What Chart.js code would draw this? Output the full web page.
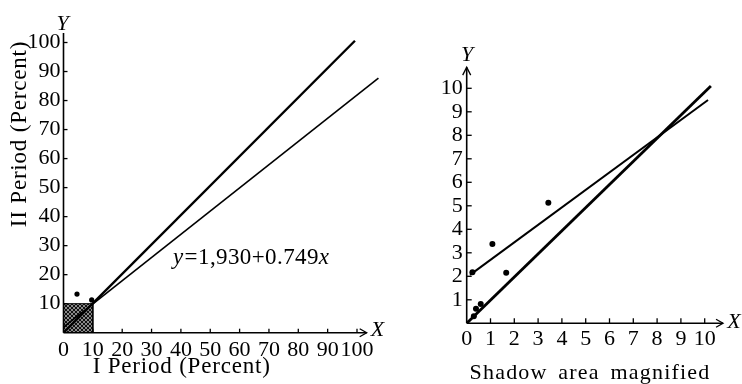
<!DOCTYPE html>
<html><head><meta charset="utf-8">
<script src="https://cdn.jsdelivr.net/npm/chart.js@4/dist/chart.umd.min.js"></script>
<style>
html,body{margin:0;padding:0;background:#fff;width:742px;height:384px;overflow:hidden}
canvas{position:absolute;top:0}
#left{left:0}
#right{left:420px}
</style></head><body>
<canvas id="left" width="420" height="384"></canvas>
<canvas id="right" width="322" height="384"></canvas>
<script>
// ---------- data ----------
const leftXTicks = [0,10,20,30,40,50,60,70,80,90,100];
const leftYTicks = [10,20,30,40,50,60,70,80,90,100];
const leftLineSteep = [{x:0,y:0},{x:99.3,y:100.6}];
const leftLineFit = [{x:0,y:1.9},{x:107.3,y:87.7}];
const leftPoints = [{x:4.6,y:13.3},{x:9.6,y:11.3}];
const shadowBox = [{x:0,y:0},{x:0,y:10},{x:10,y:10},{x:10,y:0}];

const rightXTicks = [0,1,2,3,4,5,6,7,8,9,10];
const rightYTicks = [1,2,3,4,5,6,7,8,9,10];
const rightLineSteep = [{x:0,y:0},{x:10.26,y:10.1}];
const rightLineFit = [{x:0.14,y:2.06},{x:10.14,y:9.5}];
const rightPoints = [{x:0.24,y:2.17},{x:1.08,y:3.37},{x:1.66,y:2.15},{x:3.43,y:5.13},{x:0.39,y:0.62},{x:0.59,y:0.82},{x:0.3,y:0.3}];

const equationParts = [["y",true],["=1,930+0.749",false],["x",true]];

// ---------- setup ----------
const FONT = "'Liberation Serif', 'DejaVu Serif', serif";
Chart.defaults.font.family = FONT;
Chart.defaults.color = '#000';
Chart.defaults.animation = false;

function hatch(){
  const c = document.createElement('canvas'); c.width = 4; c.height = 4;
  const g = c.getContext('2d');
  g.fillStyle = '#8a8a8a'; g.fillRect(0,0,4,4);
  g.strokeStyle = '#111'; g.lineWidth = 1;
  g.beginPath(); g.moveTo(0,4); g.lineTo(4,0); g.stroke();
  g.beginPath(); g.moveTo(0,0); g.lineTo(4,4); g.stroke();
  return g.createPattern(c,'repeat');
}

function axisScale(ticksArr, max, fit, isX, pad){
  return {
    type:'linear', min:0, max:max,
    afterBuildTicks: s => { s.ticks = ticksArr.map(v => ({value:v})); },
    afterFit: s => { if (isX) s.height = fit; else s.width = fit; },
    grid:{display:false, drawTicks:false},
    border:{display:false},
    ticks:{font:{size:22}, color:'#000', padding:pad, autoSkip:false, maxRotation:0, minRotation:0,
      callback: v => String(v)}
  };
}

const decor = {
  id:'decor',
  afterDatasetsDraw(chart, args, o){
    const ctx = chart.ctx, xs = chart.scales.x, ys = chart.scales.y;
    const x0 = xs.getPixelForValue(0), y0 = ys.getPixelForValue(0);
    ctx.save();
    ctx.strokeStyle = '#000'; ctx.lineWidth = 1.6; ctx.lineCap = 'butt';
    const xe = xs.getPixelForValue(o.xEnd), ye = ys.getPixelForValue(o.yEnd);
    ctx.beginPath(); ctx.moveTo(x0, y0); ctx.lineTo(xe, y0); ctx.stroke();
    ctx.beginPath(); ctx.moveTo(x0, y0); ctx.lineTo(x0, ye); ctx.stroke();
    // arrows
    ctx.lineWidth = 1.3;
    if (o.xArrow){ ctx.beginPath(); ctx.moveTo(xe-7, y0-4); ctx.lineTo(xe, y0); ctx.lineTo(xe-7, y0+4); ctx.stroke(); }
    if (o.yArrow){ ctx.beginPath(); ctx.moveTo(x0-4, ye+8); ctx.lineTo(x0, ye); ctx.lineTo(x0+4, ye+8); ctx.stroke(); }
    // inward ticks
    ctx.lineWidth = 1.3;
    o.xTicks.forEach(v => { if (v===0) return; const p = xs.getPixelForValue(v);
      ctx.beginPath(); ctx.moveTo(p, y0); ctx.lineTo(p, y0 - o.tickLen); ctx.stroke(); });
    o.yTicks.forEach(v => { const p = ys.getPixelForValue(v);
      ctx.beginPath(); ctx.moveTo(x0, p); ctx.lineTo(x0 + o.tickLen, p); ctx.stroke(); });
    // texts
    ctx.fillStyle = '#000';
    (o.texts||[]).forEach(t => {
      ctx.save();
      ctx.font = (t.italic?'italic ':'') + t.size + 'px ' + FONT;
      ctx.textAlign = t.align || 'center'; ctx.textBaseline = 'middle';
      if (t.ls) ctx.letterSpacing = t.ls + 'px';
      if (t.ws) ctx.wordSpacing = t.ws + 'px';
      ctx.translate(t.x, t.y); if (t.rot) ctx.rotate(t.rot);
      ctx.fillText(t.text, 0, 0);
      ctx.restore();
    });
    if (o.equation){
      let x = o.equation.x;
      ctx.save();
      ctx.letterSpacing = o.equation.ls + 'px';
      o.equation.parts.forEach(([s, it]) => {
        ctx.font = (it?'italic ':'') + o.equation.size + 'px ' + FONT;
        ctx.textAlign = 'left'; ctx.textBaseline = 'middle';
        ctx.fillText(s, x, o.equation.y);
        x += ctx.measureText(s).width + (it?1:0);
      });
      ctx.restore();
    }
    ctx.restore();
  }
};

// ---------- left chart ----------
new Chart(document.getElementById('left'), {
  type:'scatter',
  data:{datasets:[
    {data:leftPoints, pointRadius:2.6, pointBackgroundColor:'#000', pointBorderWidth:0, showLine:false},
    {data:leftLineSteep, showLine:true, borderColor:'#000', borderWidth:2.4, pointRadius:0},
    {data:leftLineFit, showLine:true, borderColor:'#000', borderWidth:1.6, pointRadius:0},
    {type:'line', data:shadowBox, fill:'origin', backgroundColor:hatch(), borderColor:'#000', borderWidth:1, pointRadius:0, tension:0}
  ]},
  options:{
    responsive:false, animation:false,
    layout:{padding:{left:0, top:28, right:33.65, bottom:0}},
    scales:{
      x: axisScale(leftXTicks, 110, 51.3, true, 4),
      y: axisScale(leftYTicks, 105, 63.5, false, 3)
    },
    plugins:{legend:{display:false}, tooltip:{enabled:false},
      decor:{xEnd:103.3, yEnd:103.3, xArrow:true, yArrow:false, tickLen:4,
        xTicks:leftXTicks, yTicks:leftYTicks,
        texts:[
          {text:'Y', x:62.5, y:24, size:22, italic:true},
          {text:'X', x:377.5, y:330, size:22, italic:true},
          {text:'I Period (Percent)', x:181.7, y:367, size:23, ls:0.8},
          {text:'II Period (Percent)', x:20, y:134, size:23, ls:0.8, rot:-Math.PI/2}
        ],
        equation:{x:173, y:258, size:23, ls:0.4, parts:equationParts}
      }
    }
  },
  plugins:[decor]
});

// ---------- right chart ----------
new Chart(document.getElementById('right'), {
  type:'scatter',
  data:{datasets:[
    {data:rightPoints, pointRadius:3, pointBackgroundColor:'#000', pointBorderWidth:0, showLine:false},
    {data:rightLineSteep, showLine:true, borderColor:'#000', borderWidth:2.8, pointRadius:0},
    {data:rightLineFit, showLine:true, borderColor:'#000', borderWidth:2, pointRadius:0}
  ]},
  options:{
    responsive:false, animation:false,
    layout:{padding:{left:0, top:64.8, right:13.5, bottom:0}},
    scales:{
      x: axisScale(rightXTicks, 11, 60.7, true, 3),
      y: axisScale(rightYTicks, 11, 46.7, false, 4)
    },
    plugins:{legend:{display:false}, tooltip:{enabled:false},
      decor:{xEnd:10.77, yEnd:10.9, xArrow:true, yArrow:true, tickLen:5,
        xTicks:rightXTicks, yTicks:rightYTicks,
        texts:[
          {text:'Y', x:47, y:55, size:22, italic:true},
          {text:'X', x:314, y:322, size:22, italic:true},
          {text:'Shadow area magnified', x:170, y:373, size:22, ls:1.2, ws:4}
        ]
      }
    }
  },
  plugins:[decor]
});
</script>
</body></html>
